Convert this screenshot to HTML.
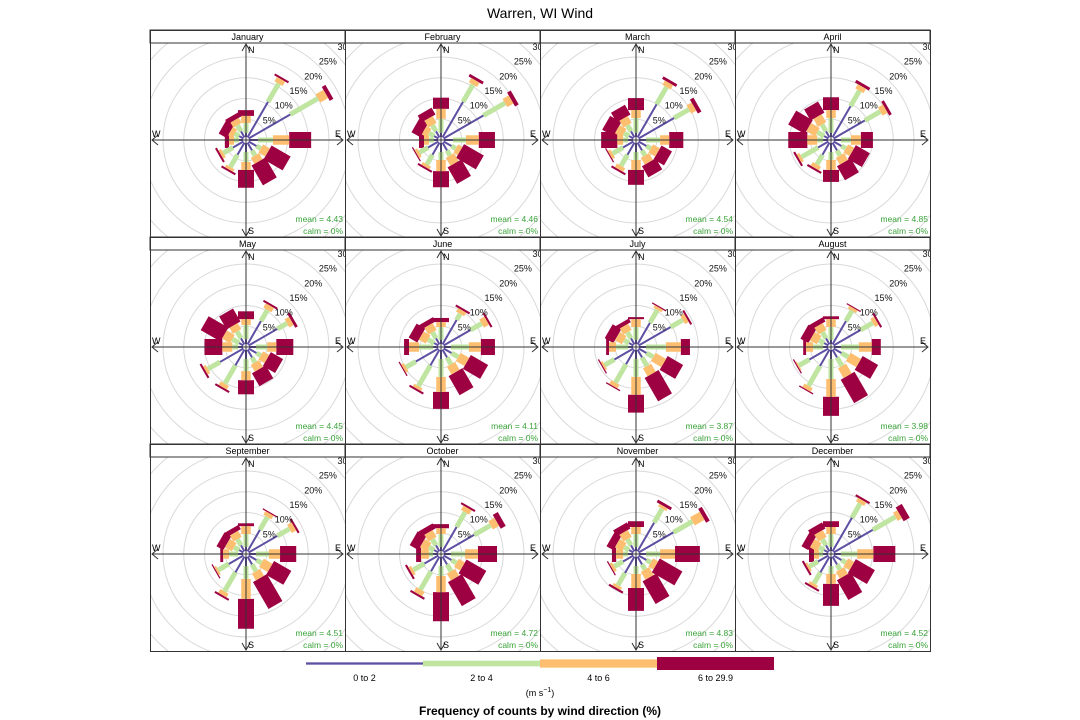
<!DOCTYPE html>
<html><head><meta charset="utf-8">
<style>
html,body{margin:0;padding:0;background:#fff;}
svg{display:block;font-family:"Liberation Sans",sans-serif;}
</style></head>
<body>
<svg id="chart" width="1080" height="720" viewBox="0 0 1080 720" xmlns="http://www.w3.org/2000/svg">
<text x="540" y="18" text-anchor="middle" font-size="14" fill="#000">Warren, WI Wind</text>
<g id="panels"></g>
<g id="legend"></g>
<text x="540" y="696" text-anchor="middle" font-size="9" fill="#000">(m s<tspan dy="-4" font-size="7">−1</tspan><tspan dy="4">)</tspan></text>
<text x="540" y="715" text-anchor="middle" font-size="12" font-weight="bold" fill="#000">Frequency of counts by wind direction (%)</text>
</svg>
<script>
const months = ["January","February","March","April","May","June","July","August","September","October","November","December"];
const directions = [0,30,60,90,120,150,180,210,240,270,300,330];
const binLabels = ["0 to 2","2 to 4","4 to 6","6 to 29.9"];
const means = [4.43,4.46,4.54,4.85,4.45,4.11,3.87,3.98,4.51,4.72,4.83,4.52];
const calms = [0,0,0,0,0,0,0,0,0,0,0,0];
const ringLevels = [5,10,15,20,25,30];
const speed0to2 = [
[1.7,10.6,12.3,2.9,2.9,2.9,2.9,4.1,3.6,1.7,1.9,2.4],
[1.7,10.6,11.8,2.9,2.9,2.9,2.9,4.1,3.6,1.7,1.9,2.4],
[1.7,9.9,10.6,2.4,2.9,2.9,2.9,4.1,3.6,1.9,1.9,2.4],
[1.7,9.4,9.4,2.4,2.9,2.9,2.9,4.1,3.6,1.9,1.9,2.4],
[1.9,7.2,8.7,2.4,2.9,2.9,2.9,5.1,7.2,1.9,1.9,2.4],
[1.7,7.5,8.2,2.4,2.9,2.9,2.9,5.1,7.0,1.9,1.9,2.4],
[1.7,6.7,9.6,2.4,2.9,2.9,2.9,4.8,6.0,1.9,1.9,2.4],
[1.7,7.2,8.2,2.4,2.9,2.9,2.9,5.3,6.0,1.9,1.9,2.4],
[1.7,6.7,8.7,2.4,2.9,2.9,2.9,5.1,4.8,1.9,1.9,2.4],
[1.7,7.5,9.2,2.4,2.9,2.9,2.9,4.8,4.6,1.9,1.9,2.4],
[1.7,8.7,10.4,2.4,2.9,2.9,2.9,5.3,3.6,1.9,1.9,2.4],
[1.7,10.1,11.6,2.4,2.9,2.9,2.9,5.1,3.6,1.9,1.9,2.4]];
const speed2to4 = [
[2.4,5.1,7.7,3.6,1.2,1.4,2.4,3.4,2.7,1.2,1.2,1.7],
[3.4,4.8,6.0,3.1,1.2,1.4,1.9,2.7,2.4,1.2,1.4,1.7],
[3.6,4.8,4.1,3.4,1.2,1.4,1.9,3.1,2.9,1.2,1.4,1.7],
[3.6,4.3,4.3,2.4,1.2,1.4,1.9,2.7,4.6,1.4,1.9,1.9],
[3.4,3.1,2.7,2.7,1.2,1.4,2.9,5.1,3.4,1.4,1.9,1.9],
[3.1,1.7,3.1,4.3,1.9,1.9,4.3,5.8,2.7,3.4,1.7,1.7],
[3.1,3.6,3.4,4.8,1.9,2.4,4.3,5.1,2.7,2.9,1.4,1.7],
[3.1,2.9,3.4,4.3,1.9,2.4,4.8,5.5,2.9,2.4,1.4,1.7],
[3.1,3.6,3.4,3.1,1.4,1.9,3.1,5.3,2.9,2.2,1.4,1.7],
[3.1,4.1,4.6,3.4,1.4,1.9,2.4,5.1,3.1,1.0,1.4,1.7],
[3.1,3.9,5.3,3.4,1.2,1.4,1.9,3.4,2.4,1.2,1.4,1.7],
[3.1,3.9,6.3,3.9,1.2,1.4,1.9,3.1,2.4,1.0,1.4,1.7]];
const speed4to6 = [
[1.7,1.2,2.2,3.9,1.9,1.7,1.9,0.7,0.7,1.2,1.2,1.4],
[2.4,1.2,1.7,3.1,1.2,2.2,2.7,0.7,0.7,1.2,1.4,1.9],
[1.9,1.2,1.4,2.2,1.9,1.9,2.4,1.0,0.7,1.4,1.9,1.9],
[1.9,1.2,1.4,2.4,1.7,1.9,2.4,1.0,0.7,2.4,2.4,2.2],
[1.4,1.2,1.2,2.2,1.7,1.9,2.2,1.0,0.7,2.4,2.2,1.7],
[1.2,1.0,1.4,2.9,2.4,2.2,3.6,0.7,0.7,2.4,1.9,1.9],
[1.9,0.7,1.0,3.6,2.9,2.2,4.3,1.0,0.5,1.7,1.9,1.7],
[1.9,0.7,1.0,3.1,2.9,2.7,4.3,1.0,0.3,1.7,1.9,1.9],
[1.9,1.0,1.2,2.7,2.4,1.9,4.8,1.0,0.5,1.4,1.9,1.7],
[1.4,1.2,1.7,3.1,1.7,1.9,3.9,1.2,0.7,1.9,1.9,1.9],
[1.7,0.7,2.7,3.6,1.4,2.2,3.4,0.7,0.7,1.7,1.9,1.9],
[1.7,1.0,1.2,3.9,1.7,1.9,2.4,0.7,0.5,1.2,1.9,1.9]];
const speed6to30 = [
[1.4,0.5,1.0,5.3,5.3,5.5,4.3,0.5,0.5,1.0,2.2,1.2],
[2.7,0.7,1.0,3.9,5.5,4.6,3.9,0.5,0.3,1.2,2.4,1.9],
[2.9,0.7,1.0,3.4,2.9,3.1,3.6,0.5,0.3,3.9,3.1,2.7],
[3.1,0.7,0.7,2.9,3.9,3.9,2.9,0.5,0.5,4.6,4.6,3.1],
[1.9,0.5,0.7,4.1,3.4,3.6,3.4,0.5,0.5,4.3,5.5,3.6],
[1.0,0.5,0.5,3.4,4.8,5.3,4.1,0.5,0.3,1.2,2.4,1.2],
[0.5,0.3,0.5,2.2,4.3,6.5,4.3,0.3,0.3,0.7,2.4,1.0],
[0.7,0.3,0.5,2.2,4.3,6.5,4.6,0.3,0.3,0.7,2.2,1.2],
[0.7,0.3,0.5,3.9,4.8,7.5,7.2,0.5,0.3,0.7,1.9,1.2],
[1.0,0.5,1.4,4.6,5.5,6.7,7.0,0.5,0.5,1.2,2.4,1.4],
[1.4,0.7,1.0,6.0,6.3,6.3,5.5,0.5,0.3,1.0,1.9,1.7],
[1.4,0.5,1.7,5.3,5.3,5.5,5.3,0.5,0.5,1.2,1.9,1.7]];

const NS = "http://www.w3.org/2000/svg";
const binColors = ["#5e4fa2","#bfe5a0","#fdbf6f","#9e0142"];
const binWidths = [2,5,9.5,16];
const legendHeights = [2.3,5.7,8.3,13];
const SCALE = 4.15; // px per percent
const R0 = 3;
const colX = [150,345,540,735,930];
const rowY = [30,237,444,651];
const STRIP = 13;
function rScale(v){ return v*SCALE; }
function mk(tag, attrs, parent){
  const e = document.createElementNS(NS, tag);
  for (const k in attrs) e.setAttribute(k, attrs[k]);
  parent.appendChild(e);
  return e;
}
const svg = document.getElementById("chart");
const defs = mk("defs", {}, svg);
const panels = document.getElementById("panels");
const bins = [speed0to2, speed2to4, speed4to6, speed6to30];

months.forEach((m, i) => {
  const col = i % 4, row = Math.floor(i / 4);
  const L = colX[col], R = colX[col+1], T = rowY[row], B = rowY[row+1];
  const cx = L + 96, cy = T + STRIP + 97;
  const g = mk("g", {}, panels);
  
  
  const cp = mk("clipPath", {id: "clip" + i}, defs);
  mk("rect", {x: L, y: T+STRIP, width: R-L, height: B-T-STRIP}, cp);
  const inner = mk("g", {"clip-path": "url(#clip" + i + ")"}, g);
  // rings
  ringLevels.forEach(lv => {
    const c = mk("circle", {cx: cx, cy: cy, r: rScale(lv), fill: "none", stroke: "#d9d9d9", "stroke-width": 1}, inner);
    
    
  });
  // petals, drawn from largest bin to smallest
  for (let b = 3; b >= 0; b--) {
    directions.forEach((d, k) => {
      let start = 0;
      for (let j = 0; j < b; j++) start += bins[j][i][k];
      const end = start + bins[b][i][k];
      let r1 = Math.max(rScale(start), R0), r2 = rScale(end);
      if (r2 <= r1) return;
      const th = d * Math.PI / 180;
      const ux = Math.sin(th), uy = -Math.cos(th);
      const nx = Math.cos(th), ny = Math.sin(th);
      const w = binWidths[b] / 2;
      const pts = [
        [cx + ux*r1 + nx*w, cy + uy*r1 + ny*w],
        [cx + ux*r2 + nx*w, cy + uy*r2 + ny*w],
        [cx + ux*r2 - nx*w, cy + uy*r2 - ny*w],
        [cx + ux*r1 - nx*w, cy + uy*r1 - ny*w]
      ].map(p => p[0].toFixed(2) + "," + p[1].toFixed(2)).join(" ");
      const p = mk("polygon", {points: pts, fill: binColors[b]}, inner);
      
      
    });
  }
  // axes
  const ax = mk("g", {stroke: "#333", "stroke-width": 1, fill: "none"}, inner);
  
  
  mk("line", {x1: L+2, y1: cy, x2: R-2, y2: cy}, ax);
  mk("line", {x1: cx, y1: T+STRIP+1, x2: cx, y2: B-1}, ax);
  mk("polyline", {points: `${L+8},${cy-5} ${L+2},${cy} ${L+8},${cy+5}`}, ax);
  mk("polyline", {points: `${R-8},${cy-5} ${R-2},${cy} ${R-8},${cy+5}`}, ax);
  mk("polyline", {points: `${cx-4},${T+STRIP+8} ${cx},${T+STRIP+1} ${cx+4},${T+STRIP+8}`}, ax);
  mk("polyline", {points: `${cx-4},${B-8} ${cx},${B-1} ${cx+4},${B-8}`}, ax);
  const lbls = [["N", cx+2, T+STRIP+10, "start"], ["S", cx+2, B-3, "start"], ["W", L+2, cy-3, "start"], ["E", R-4, cy-3, "end"]];
  lbls.forEach(a => {
    const t = mk("text", {x: a[1], y: a[2], "font-size": 9, fill: "#000", "text-anchor": a[3]}, inner);
    t.textContent = a[0];
    
    
  });
  ringLevels.forEach(lv => {
    const rr = rScale(lv) * 0.7071;
    const t = mk("text", {x: (cx + rr + 8.5).toFixed(1), y: (cy - rr - 2).toFixed(1), "font-size": 9, fill: "#111", "text-anchor": "middle"}, inner);
    t.textContent = lv === 30 ? "30" : lv + "%";
    
    
  });
  const t1 = mk("text", {x: R-2, y: B-15, "font-size": 8.5, fill: "#3aa33a", "text-anchor": "end"}, inner);
  t1.textContent = "mean = " + means[i].toFixed(2);
  
  
  const t2 = mk("text", {x: R-2, y: B-3, "font-size": 8.5, fill: "#3aa33a", "text-anchor": "end"}, inner);
  t2.textContent = "calm = " + calms[i] + "%";
  
  
  // strip + border
  const s = mk("rect", {x: L, y: T, width: R-L, height: STRIP, fill: "#fff", stroke: "#333", "stroke-width": 1}, g);
  
  
  const st = mk("text", {x: (L+R)/2, y: T+10, "font-size": 9, fill: "#000", "text-anchor": "middle"}, g);
  st.textContent = m;
  
  
  const bd = mk("rect", {x: L+0.5, y: T+0.5, width: R-L, height: B-T, fill: "none", stroke: "#333", "stroke-width": 1}, g);
  
  
});

const legend = document.getElementById("legend");
binLabels.forEach((lab, b) => {
  const x0 = 306 + b*117, h = legendHeights[b];
  const r = mk("rect", {x: x0, y: 663.5 - h/2, width: 117, height: h, fill: binColors[b]}, legend);
  
  
  const t = mk("text", {x: x0 + 58.5, y: 681, "font-size": 9, fill: "#000", "text-anchor": "middle"}, legend);
  t.textContent = lab;
  
  
});
</script>
</body></html>
